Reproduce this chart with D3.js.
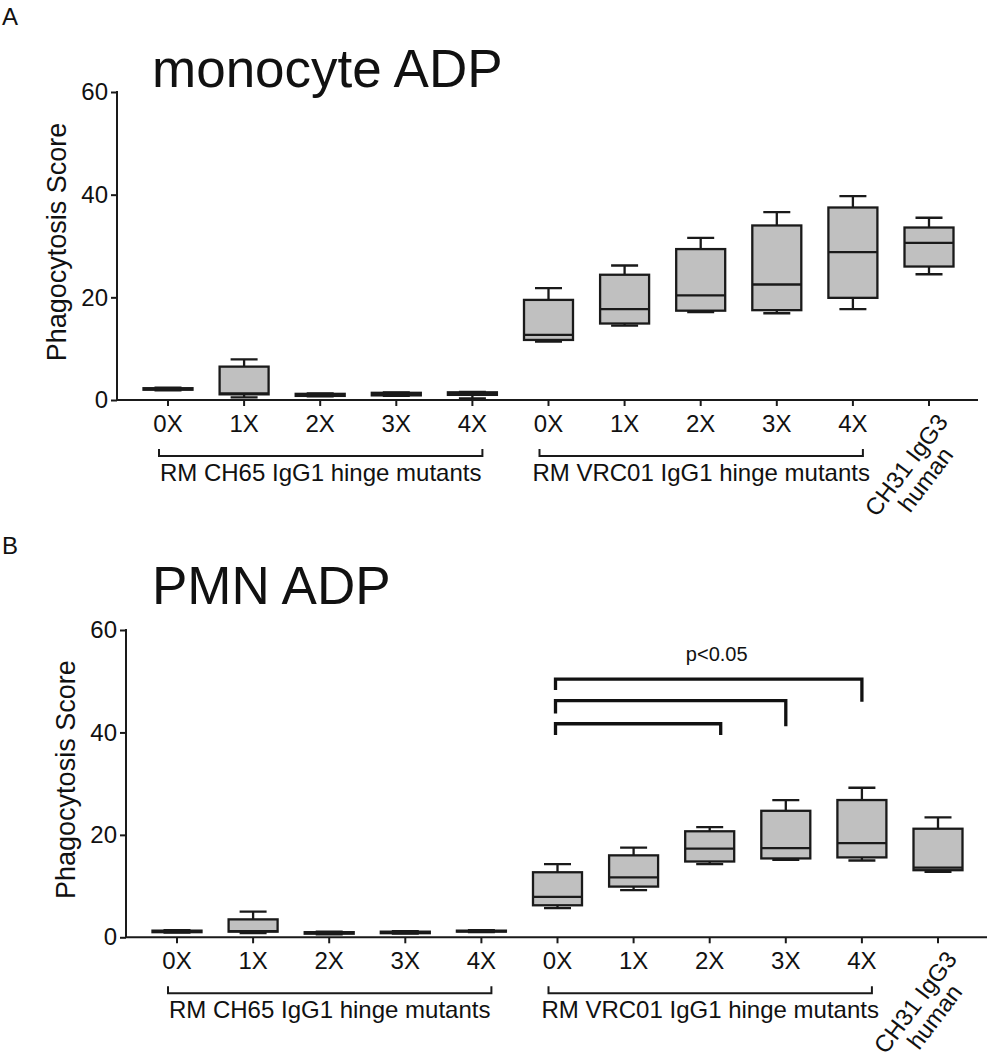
<!DOCTYPE html>
<html lang="en">
<head>
<meta charset="utf-8">
<title>Phagocytosis box plots</title>
<script src="https://cdn.jsdelivr.net/npm/d3@7"></script>
<style>
  body { margin: 0; background: #fff; }
  text { font-family: "Liberation Sans", Arial, sans-serif; fill: #111; }
  .tick-lab { font-size: 24px; }
  .grp { font-size: 24px; text-anchor: middle; }
  .title { font-size: 53px; }
  .ylab { font-size: 27px; text-anchor: middle; }
  .panel-lab { font-size: 24px; }
  .box { fill: #c0c0c0; stroke: #1a1a1a; stroke-width: 2.3px; }
  .wh { stroke: #1a1a1a; stroke-width: 2.3px; fill: none; }
  .ax { stroke: #1a1a1a; stroke-width: 2px; fill: none; }
  .sig { stroke: #111; stroke-width: 3.3px; fill: none; }
</style>
</head>
<body>
<script>
// categories along x (ids) and the labels printed under them
var cats = ["CH65-0X","CH65-1X","CH65-2X","CH65-3X","CH65-4X",
            "VRC01-0X","VRC01-1X","VRC01-2X","VRC01-3X","VRC01-4X","CH31"];
var catLabels = ["0X","1X","2X","3X","4X","0X","1X","2X","3X","4X",""];
var yTicks = [0, 20, 40, 60];

// monocyte ADP (panel A): min, q1, median, q3, max
var monoMin = [1.9, 0.5, 0.7, 0.8, 0.3, 11.4, 14.5, 17.1, 16.9, 17.7, 24.5];
var monoQ1  = [2.0, 1.1, 0.8, 0.9, 1.0, 11.7, 14.9, 17.4, 17.5, 19.9, 26.0];
var monoMed = [2.1, 1.3, 1.0, 1.2, 1.2, 12.7, 17.7, 20.4, 22.5, 28.8, 30.6];
var monoQ3  = [2.3, 6.5, 1.2, 1.4, 1.5, 19.5, 24.4, 29.4, 34.0, 37.5, 33.6];
var monoMax = [2.4, 7.9, 1.3, 1.5, 1.6, 21.8, 26.2, 31.6, 36.6, 39.7, 35.5];

// PMN ADP (panel B)
var pmnMin = [0.9, 0.8, 0.6, 0.7, 1.0, 5.7, 9.2, 14.3, 15.1, 15.0, 12.8];
var pmnQ1  = [1.0, 1.1, 0.7, 0.8, 1.1, 6.25, 9.9, 14.8, 15.4, 15.6, 13.1];
var pmnMed = [1.2, 1.2, 0.9, 1.0, 1.2, 7.9, 11.7, 17.3, 17.4, 18.4, 13.6];
var pmnQ3  = [1.3, 3.5, 1.0, 1.1, 1.3, 12.7, 16.0, 20.7, 24.7, 26.8, 21.2];
var pmnMax = [1.4, 5.0, 1.1, 1.2, 1.4, 14.3, 17.5, 21.5, 26.8, 29.2, 23.4];

// significance brackets in panel B: from, to, bar level, left / right leg ends
var sigFrom  = ["VRC01-0X","VRC01-0X","VRC01-0X"];
var sigTo    = ["VRC01-2X","VRC01-3X","VRC01-4X"];
var sigLevel = [41.7, 46.2, 50.4];
var sigLegL  = [39.5, 43.7, 48.3];
var sigLegR  = [39.5, 41.2, 46.0];
var sigText  = "p<0.05";

var groups = [
  {label: "RM CH65 IgG1 hinge mutants", from: "CH65-0X", to: "CH65-4X"},
  {label: "RM VRC01 IgG1 hinge mutants", from: "VRC01-0X", to: "VRC01-4X"}
];
var sideLabel = ["CH31 IgG3", "human"];

var W = 990, H = 1058;
var svg = d3.select("body").append("svg").attr("width", W).attr("height", H);

function zip(mn, q1, md, q3, mx) {
  return cats.map(function(c, i) {
    return {cat: c, min: mn[i], q1: q1[i], med: md[i], q3: q3[i], max: mx[i]};
  });
}

var panels = [
  {letter: "A", title: "monocyte ADP", left: 117, top: 92, base: 400, titleY: 87,
   data: zip(monoMin, monoQ1, monoMed, monoQ3, monoMax), sig: false},
  {letter: "B", title: "PMN ADP", left: 126, top: 630, base: 937.3, titleY: 604,
   data: zip(pmnMin, pmnQ1, pmnMed, pmnQ3, pmnMax), sig: true}
];

var boxW = 49, capW = 27;

panels.forEach(function(p, pi) {
  var g = svg.append("g");
  var x = d3.scalePoint().domain(cats).range([p.left + 51, p.left + 812]);
  var y = d3.scaleLinear().domain([0, 60]).range([p.base, p.top]);

  g.append("text").attr("class", "panel-lab")
    .attr("x", 2).attr("y", pi === 0 ? 25 : 554).text(p.letter);

  g.append("text").attr("class", "title")
    .attr("x", 152).attr("y", p.titleY).text(p.title);

  g.append("text").attr("class", "ylab")
    .attr("transform", "translate(" + (p.left - 51) + "," + ((p.base + p.top) / 2 - 4) + ") rotate(-90)")
    .text("Phagocytosis Score");

  // y axis
  var ya = g.append("g").attr("transform", "translate(" + p.left + ",0)")
    .call(d3.axisLeft(y).tickValues(yTicks).tickSize(6).tickPadding(3).tickFormat(d3.format("d")));
  ya.select(".domain").remove();
  ya.selectAll("line").attr("class", "ax");
  ya.selectAll("text").attr("class", "tick-lab").attr("font-family", null).attr("font-size", null);
  g.append("line").attr("class", "ax")
    .attr("x1", p.left).attr("x2", p.left).attr("y1", y(60) - 1).attr("y2", y(0));

  // x axis
  g.append("line").attr("class", "ax")
    .attr("x1", p.left).attr("x2", x(cats[cats.length - 1]) + 49)
    .attr("y1", y(0)).attr("y2", y(0));
  g.selectAll(".xt").data(cats).enter().append("line").attr("class", "ax")
    .attr("x1", function(d) { return x(d); }).attr("x2", function(d) { return x(d); })
    .attr("y1", y(0)).attr("y2", y(0) + 6);
  g.selectAll(".xl").data(cats).enter().append("text").attr("class", "tick-lab")
    .attr("text-anchor", "middle")
    .attr("x", function(d) { return x(d); }).attr("y", y(0) + 32)
    .text(function(d, i) { return catLabels[i]; });

  // group brackets under the axis
  groups.forEach(function(gr) {
    var x1 = x(gr.from) - 9, x2 = x(gr.to) + 10, yb = y(0) + 56;
    g.append("path").attr("class", "ax")
      .attr("d", "M" + x1 + "," + (yb - 7) + "V" + yb + "H" + x2 + "V" + (yb - 7));
    g.append("text").attr("class", "grp")
      .attr("x", (x1 + x2) / 2).attr("y", y(0) + 81).text(gr.label);
  });

  // rotated label for the human control
  var rl = g.append("g")
    .attr("transform", "translate(" + (x("CH31") - 16) + "," + (y(0) + 70) + ") rotate(-53)");
  rl.selectAll("text").data(sideLabel).enter().append("text").attr("class", "tick-lab")
    .attr("text-anchor", "middle").attr("x", 0).attr("y", function(d, i) { return i * 24; })
    .text(function(d) { return d; });

  // boxes
  var b = g.selectAll(".bx").data(p.data).enter().append("g");
  b.append("path").attr("class", "wh")
    .attr("d", function(d) {
      var cx = x(d.cat);
      return "M" + cx + "," + y(d.q3) + "V" + y(d.max) +
        "M" + (cx - capW / 2) + "," + y(d.max) + "H" + (cx + capW / 2) +
        "M" + cx + "," + y(d.q1) + "V" + y(d.min) +
        "M" + (cx - capW / 2) + "," + y(d.min) + "H" + (cx + capW / 2);
    });
  b.append("rect").attr("class", "box")
    .attr("x", function(d) { return x(d.cat) - boxW / 2; })
    .attr("width", boxW)
    .attr("y", function(d) { return y(d.q3); })
    .attr("height", function(d) { return y(d.q1) - y(d.q3); });
  b.append("line").attr("class", "wh")
    .attr("x1", function(d) { return x(d.cat) - boxW / 2; })
    .attr("x2", function(d) { return x(d.cat) + boxW / 2; })
    .attr("y1", function(d) { return y(d.med); })
    .attr("y2", function(d) { return y(d.med); });

  // significance brackets
  if (p.sig) {
    sigFrom.forEach(function(f, i) {
      var x1 = x(f) - 2, x2 = x(sigTo[i]) + (i === 0 ? 11 : 0);
      g.append("path").attr("class", "sig")
        .attr("d", "M" + x1 + "," + y(sigLegL[i]) + "V" + y(sigLevel[i]) +
          "H" + x2 + "V" + y(sigLegR[i]));
    });
    g.append("text").attr("font-size", 20).attr("text-anchor", "middle")
      .attr("x", (x(sigFrom[2]) + x(sigTo[2])) / 2 + 7)
      .attr("y", y(d3.max(sigLevel)) - 18).text(sigText);
  }
});
</script>
</body>
</html>
